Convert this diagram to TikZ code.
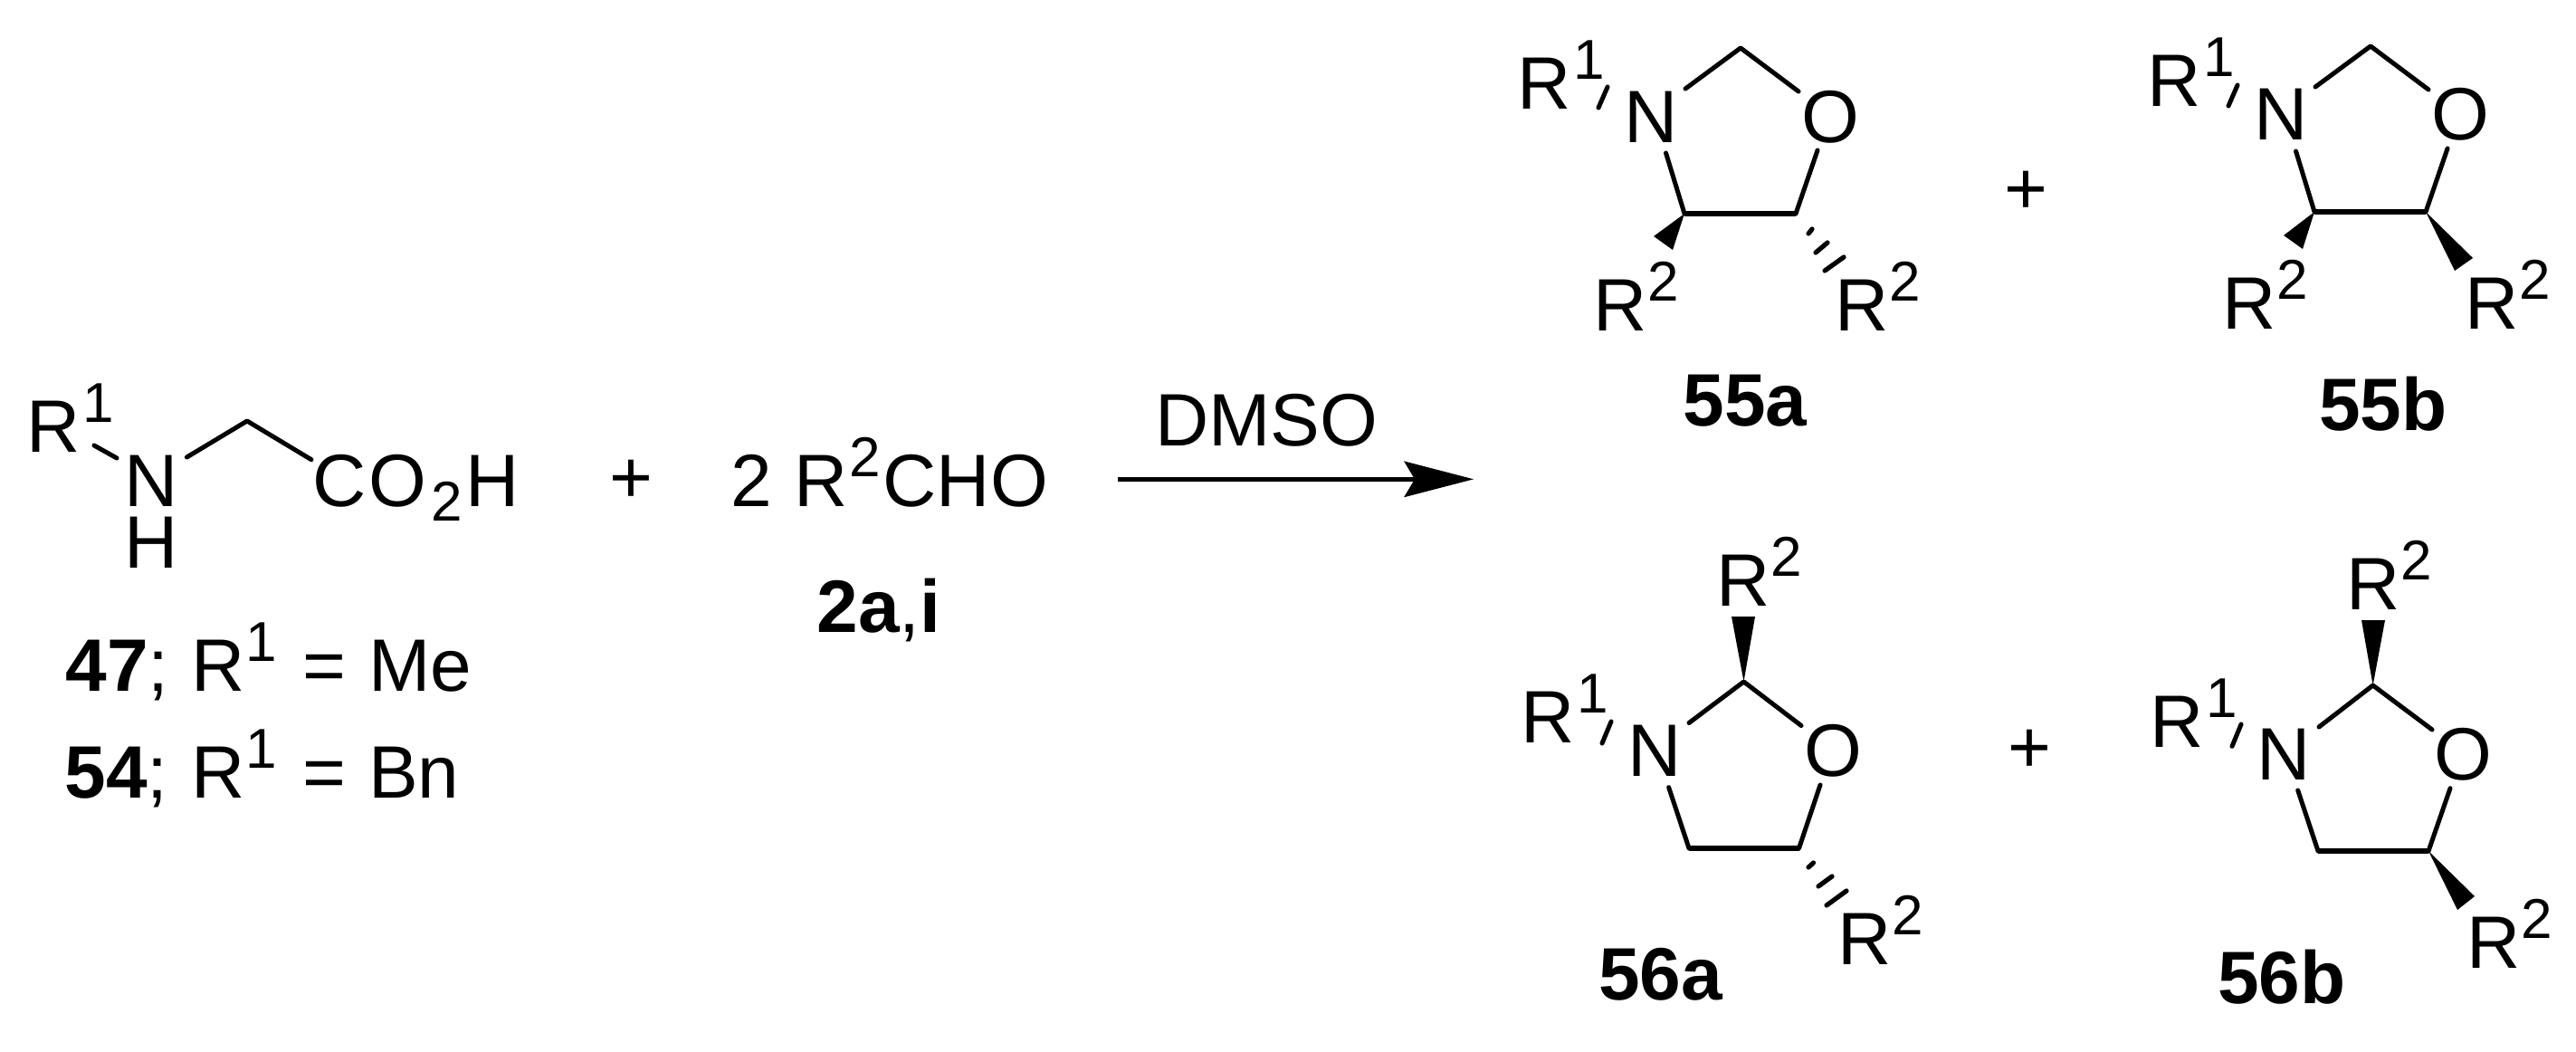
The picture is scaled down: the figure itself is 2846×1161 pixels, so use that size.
\documentclass[tikz,border=0pt]{standalone}
\usepackage{fontspec}
\setmainfont{Liberation Sans}
\usetikzlibrary{arrows.meta}
\newcommand\hk[1]{\kern\dimexpr #1pt/2\relax}
\newcommand\supd[1]{\raisebox{16.5pt}{\fontsize{31}{31}\selectfont #1}}
\newcommand\subd[1]{\raisebox{-8.3pt}{\fontsize{31}{31}\selectfont #1}}
\newcommand\Ro{R\hk{3}\supd{1}}
\newcommand\Rt{R\hk{1}\supd{2}}
\tikzset{
  lbl/.style={anchor=base west,inner sep=0pt,outer sep=0pt,font=\fontsize{41}{41}\selectfont},
  bond/.style={line width=2.5pt,line cap=round,line join=round,black},
  thickbond/.style={line width=3.2pt,line cap=butt,black},
  hash/.style={line width=2.6pt,line cap=round,black},
  wedge/.style={fill=black,draw=none},
  rxn/.style={line width=2.6pt,black,-{Stealth[length=38.5pt,width=20pt,inset=6pt,line width=0pt]}}
}
\begin{document}
\begin{tikzpicture}[x=0.5pt,y=-0.5pt]
\useasboundingbox (0,0) rectangle (2846,1161);
% ---------- reactants
\node[lbl] (r1) at (29,499) {\Ro};
\node[lbl] (n0) at (137,559) {N};
\node[lbl] (h0) at (137,627) {H};
\node[lbl] (co) at (345,559) {C\hk{3}O\hk{5}\subd{2}\hk{4}H};
\node[lbl] (p0) at (673,555.4) {+};
\node[lbl] (ald) at (807.5,559) {2 \hk{2}\Rt\hk{3}CHO};
\node[lbl] (l2a) at (902.5,698) {\textbf{2a},\textbf{i}};
\node[lbl] (l47) at (72.5,763) {\textbf{47}; \hk{2.5}R\hk{1}\supd{1}\hk{28}=\hk{25}Me};
\node[lbl] (l54) at (71.5,881) {\textbf{54}; \hk{3.5}R\hk{1}\supd{1}\hk{28}=\hk{25}Bn};
\node[lbl] (dmso) at (1276,492.7) {DMSO};
\coordinate (a0) at (1235,529.3);
\coordinate (a1) at (1628,529.3);
\draw[rxn] (a0) -- (a1);
\coordinate (b0a) at (104,492);
\coordinate (b0b) at (129,506);
\coordinate (b0c) at (206.4,505);
\coordinate (b0d) at (273,465);
\coordinate (b0e) at (344,507.7);
\draw[bond] (b0a) -- (b0b);
\draw[bond] (b0c) -- (b0d) -- (b0e);
% ---------- 55a
\node[lbl] (ar1) at (1676,120) {\Ro};
\node[lbl] (an) at (1794,157) {N};
\node[lbl] (ao) at (1990,157) {O};
\node[lbl] (ar2l) at (1760,365) {\Rt};
\node[lbl] (ar2r) at (2027,365) {\Rt};
\node[lbl] (la) at (1859.5,470) {\textbf{55a}};
\node[lbl] (pa) at (2214.4,236) {+};
\coordinate (a1a) at (1776,96); \coordinate (a1b) at (1766,119);
\coordinate (a2n) at (1862,98); \coordinate (a2) at (1923,53); \coordinate (a2o) at (1987,101);
\coordinate (a5o) at (2008,166); \coordinate (a5) at (1984,236);
\coordinate (a4n) at (1840.5,169); \coordinate (a4) at (1861,236);
\draw[bond] (a1a) -- (a1b);
\draw[bond] (a2n) -- (a2) -- (a2o);
\draw[bond] (a5o) -- (a5);
\draw[bond] (a4n) -- (a4);
\draw[thickbond] (a4) -- (a5);
\fill[wedge] (a4) -- (1827,261) -- (1848,276) -- cycle;
\draw[hash] (1998,258) -- (2002,253);
\draw[hash] (2006,279) -- (2019,268);
\draw[hash] (2016,299) -- (2037,284);
% ---------- 55b
\node[lbl] (br1) at (2372,118) {\Ro};
\node[lbl] (bn) at (2490,155) {N};
\node[lbl] (bo) at (2686,155) {O};
\node[lbl] (br2l) at (2455,363) {\Rt};
\node[lbl] (br2r) at (2723,363) {\Rt};
\node[lbl] (lb) at (2562,475) {\textbf{55b}};
\coordinate (b1a) at (2472,94); \coordinate (b1b) at (2462,117);
\coordinate (b2n) at (2558,96); \coordinate (b2) at (2619,51); \coordinate (b2o) at (2683,99);
\coordinate (b5o) at (2704,164); \coordinate (b5) at (2680,234);
\coordinate (b4n) at (2536.5,167); \coordinate (b4) at (2557,234);
\draw[bond] (b1a) -- (b1b);
\draw[bond] (b2n) -- (b2) -- (b2o);
\draw[bond] (b5o) -- (b5);
\draw[bond] (b4n) -- (b4);
\draw[thickbond] (b4) -- (b5);
\fill[wedge] (b4) -- (2523,260) -- (2544,275) -- cycle;
\fill[wedge] (b5) -- (2732,285) -- (2712,299) -- cycle;
% ---------- 56a
\node[lbl] (cr1) at (1680.6,820) {\Ro};
\node[lbl] (cn) at (1798.5,857) {N};
\node[lbl] (co2) at (1993,857) {O};
\node[lbl] (cr2t) at (1896.6,669) {\Rt};
\node[lbl] (cr2b) at (2030.6,1065) {\Rt};
\node[lbl] (lc) at (1766,1104) {\textbf{56a}};
\node[lbl] (pc) at (2218,853) {+};
\coordinate (c1a) at (1780,797); \coordinate (c1b) at (1770,821);
\coordinate (c2n) at (1866,798.5); \coordinate (c2) at (1926.5,753); \coordinate (c2o) at (1990,801.5);
\coordinate (c5o) at (2011,867); \coordinate (c5) at (1987.5,937);
\coordinate (c4n) at (1843.6,869.6); \coordinate (c4) at (1866,937);
\draw[bond] (c1a) -- (c1b);
\draw[bond] (c2n) -- (c2) -- (c2o);
\draw[bond] (c5o) -- (c5);
\draw[bond] (c4n) -- (c4);
\draw[thickbond] (c4) -- (c5);
\fill[wedge] (c2) -- (1913,681) -- (1939,681) -- cycle;
\draw[hash] (1998,958) -- (2003.5,953);
\draw[hash] (2009,979) -- (2024,968);
\draw[hash] (2018,1000) -- (2040,984);
% ---------- 56b
\node[lbl] (dr1) at (2375.6,825) {\Ro};
\node[lbl] (dn) at (2493.6,861.5) {N};
\node[lbl] (do) at (2689,861) {O};
\node[lbl] (dr2t) at (2592.6,673) {\Rt};
\node[lbl] (dr2b) at (2725.6,1069) {\Rt};
\node[lbl] (ld) at (2450,1108) {\textbf{56b}};
\coordinate (d1a) at (2476,800); \coordinate (d1b) at (2466,824.4);
\coordinate (d2n) at (2562,803); \coordinate (d2) at (2621.6,757); \coordinate (d2o) at (2687,806);
\coordinate (d5o) at (2707,870.7); \coordinate (d5) at (2683,940);
\coordinate (d4n) at (2538.7,873); \coordinate (d4) at (2561,940);
\draw[bond] (d1a) -- (d1b);
\draw[bond] (d2n) -- (d2) -- (d2o);
\draw[bond] (d5o) -- (d5);
\draw[bond] (d4n) -- (d4);
\draw[thickbond] (d4) -- (d5);
\fill[wedge] (d2) -- (2609,685) -- (2635,685) -- cycle;
\fill[wedge] (d5) -- (2734,990) -- (2715,1005) -- cycle;
\end{tikzpicture}
\end{document}
